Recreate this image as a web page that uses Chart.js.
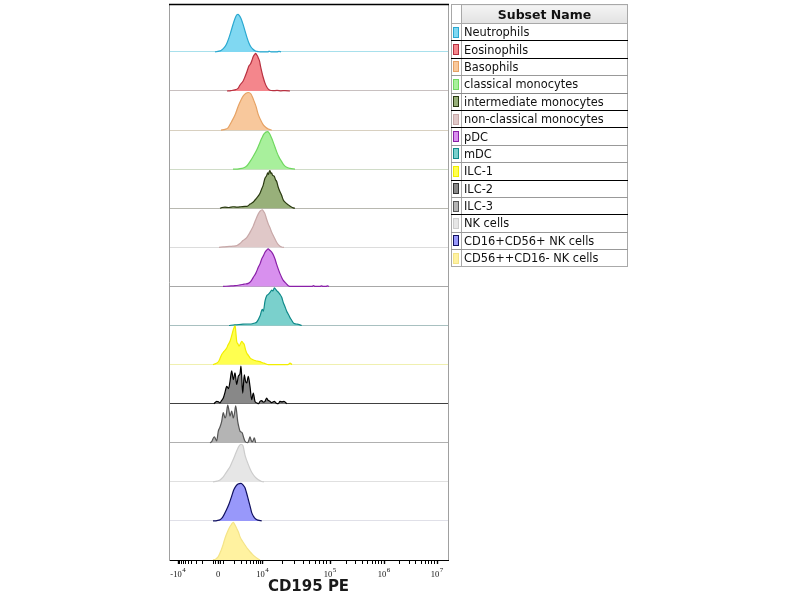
<!DOCTYPE html>
<html><head><meta charset="utf-8">
<script src="https://cdn.jsdelivr.net/npm/chart.js@4.4.1/dist/chart.umd.min.js"></script>
<style>
html,body{margin:0;padding:0;background:#fff;}
#wrap{position:relative;width:800px;height:600px;overflow:hidden;}
#c{position:absolute;left:0;top:0;}
#legend{position:absolute;left:451px;top:4px;width:177px;border-collapse:collapse;table-layout:fixed;
  font-family:"DejaVu Sans",Verdana,sans-serif;font-size:11.4px;color:#111;}
#legend td,#legend th{padding:0;border:1px solid #a8a8a8;white-space:nowrap;overflow:hidden;}
#legend th{height:18px;font-size:12.5px;font-weight:bold;text-align:center;
  background:linear-gradient(#f4f4f4,#e2e2e2);color:#111;}
#legend th.blank{background:#fff;}
#legend td{height:16.4px;line-height:16px;}
#legend td.name{padding-left:2px;}
#legend .sw{display:block;width:4px;height:9px;margin:0 0 0 1px;border:1px solid #666;}
</style></head>
<body><div id="wrap"><canvas id="c" width="800" height="600"></canvas>
<table id="legend"><colgroup><col style="width:10px"><col></colgroup>
<thead><tr><th class="blank"></th><th>Subset Name</th></tr></thead><tbody id="lb"></tbody></table></div>
<script>
// ---------- data ----------
const subsets = ['Neutrophils','Eosinophils','Basophils','classical monocytes','intermediate monocytes',
  'non-classical monocytes','pDC','mDC','ILC-1','ILC-2','ILC-3','NK cells','CD16+CD56+ NK cells','CD56++CD16- NK cells'];
// x axis: display channel (0..279), tick positions and labels of the biexponential CD195 PE axis
const tickChannels = [9, 49, 93.5, 161, 215, 268];
const tickBases = ['-10','0','10','10','10','10'];
const tickExponents = ['4','','4','5','6','7'];
const zeroBandChannels = [44, 54];
// histograms: [channel, % of mode]
const neutrophils = [[46,0],[48,1],[50,2],[52,4],[54,8],[56,14],[58,24],[60,38],[62,55],[64,73],[66,89],[68,99],[69,100],[70,98],[72,89],[74,74],[76,56],[78,38],[80,23],[82,13],[84,7],[86,3],[88,1.5],[90,0.5],[92,0],[99,0],[100,2],[102,0],[108,0],[110,1.5],[112,0]];
const eosinophils = [[58,0],[62,1],[66,3],[69,7],[71,16],[74,26],[76,38],[78,52],[80,67],[81.5,72],[83,82],[84.3,92],[85.5,97],[86.7,100],[87.5,97],[88.5,93],[89.3,88],[90.5,80],[91.5,66],[92.7,52],[94,38],[96,21],[97.5,12],[99.3,5],[101,2],[104,1],[108,1.5],[112,0.5],[116,1],[121,0]];
const basophils = [[52,0],[56,2],[59,6],[62.7,23],[66,40],[69.3,64],[72,80],[74.3,91],[77,98],[79.3,100],[82,96],[84.3,82],[87,63],[89.3,41],[92,25],[94.3,14],[97,7],[99.3,3],[102.7,0]];
const classicalMono = [[64,0],[70,1],[74.3,3],[78,9],[81,20],[84,33],[87.7,51],[90,65],[92.7,82],[95,94],[98.7,100],[100.5,95],[102.7,82],[105,66],[107.7,46],[110,32],[112.7,20],[115,11],[117.7,5],[121,2],[126,0]];
const intermediateMono = [[51,0],[53,2],[56,3],[60,2],[64,4],[68,3],[72,4],[76,5],[78,5],[81,11],[84,16],[86,22],[88,28],[91,40],[92.5,50],[94.3,62],[95,70],[96,80],[97.5,86],[98.7,94],[99.5,90],[100.3,98],[101,100],[102,92],[102.7,94],[103.5,88],[105.3,85],[106.5,76],[107.7,71],[109,58],[111,44],[112.5,35],[114.3,22],[116.5,15],[119.3,9],[122,4],[124.3,1],[126,0]];
const nonClassicalMono = [[50,0],[54,1],[58,2],[64,3],[68,5],[71,10],[74,18],[77.7,26],[80,35],[82,45],[84.3,57],[86.5,72],[89.3,89],[91,96],[93.3,100],[94.5,96],[96,89],[97.5,76],[99.3,62],[101,52],[102.7,40],[104.5,30],[106,22],[107.5,14],[109.3,7],[111,3],[112.7,1],[115,0]];
const pDC = [[54,0],[60,1],[66,2],[71,4],[75,6],[79.3,8],[82,14],[84.3,24],[87,36],[89.3,51],[91,60],[92.7,73],[94.5,82],[96,91],[97.5,96],[99.3,100],[100.5,97],[102.7,91],[104.5,83],[106,73],[107.5,60],[109.3,46],[111,34],[112.7,24],[114.3,16],[116,11],[117.7,6],[119.3,2],[122,0],[143,0],[144.5,2],[146,0],[151,0],[152.5,1.5],[154,0],[157,0],[158.5,1.5],[160,0]];
const mDC = [[60,0],[66,2],[72,3],[78,4],[82,4],[85,6],[88,10],[91,25],[93.3,43],[94.3,38],[96,65],[97.7,79],[99.3,83],[101,88],[102.7,94],[104,92],[105.3,100],[106.5,97],[107.7,93],[109.5,88],[111,83],[112.7,75],[114.3,61],[116,50],[117.7,38],[119.3,30],[121,21],[122.7,14],[124.3,7],[127,4],[129.3,3],[132.7,0]];
const ilc1 = [[44,0],[46,2],[48,4],[50,10],[52.7,27],[55,35],[57.7,44],[59,52],[61,62],[62.5,75],[64.3,93],[65.3,100],[66,106],[66.7,90],[67.7,62],[69,55],[70,49],[71.5,56],[72.7,62],[74,58],[75.3,53],[76.5,40],[77.7,31],[79.5,24],[81,18],[83,14],[86,11],[88.5,9],[91,8],[93.5,5],[96,3],[99.3,0],[119,0],[121,4],[123,0]];
const ilc2 = [[45,0],[47.7,6],[49.5,5],[51,2],[52.5,8],[54.3,15],[56,30],[57.7,46],[59.5,40],[61,59],[62.7,87],[64.3,64],[66,82],[67.7,51],[69.3,73],[71,80],[72,100],[73.7,28],[75.3,77],[76.5,60],[77.7,55],[79.3,73],[81,46],[82.7,11],[84.3,28],[86,6],[88,2],[89.5,0],[91,6],[92.7,8],[94.3,4],[96,6],[97.7,15],[99,9],[100,8],[102.7,3],[105.3,6],[107,2],[109.3,0],[111,6],[113,5],[115,6],[117.7,0]];
const ilc3 = [[41,0],[42.7,3],[45.3,16],[47.7,5],[49.3,31],[51,42],[52.7,57],[54.3,80],[56,66],[57.3,75],[58.7,100],[60,85],[61,71],[62.7,84],[64.3,66],[65.5,78],[66.7,98],[68.7,57],[70,40],[71,31],[73.3,26],[74.5,15],[76,4],[78.7,0],[80,8],[81,16],[82,8],[83.3,2],[84.5,8],[85.3,13],[86.7,0]];
const nkCells = [[44,0],[48,2],[51,5],[54.3,13],[57,24],[59,32],[61,40],[63,52],[66,71],[68,84],[70,95],[72,100],[74,96],[76,71],[78,55],[81,35],[83,24],[86,13],[89,6],[92.7,1],[95,0]];
const cd16cd56 = [[44,0],[48,1],[51,3],[53.7,10],[57.7,31],[60,45],[62.7,66],[64.7,82],[66.7,92],[69,98],[72,100],[74,96],[76,88],[77.5,75],[79.3,57],[81,40],[82.7,22],[84.5,12],[86.7,5],[89,2],[92.7,0]];
const cd56bright = [[44,0],[47,3],[49.3,9],[52,25],[54,40],[56,58],[58.5,75],[61,89],[62.5,95],[64.3,100],[66,93],[67.7,84],[69.5,74],[71,62],[73.5,50],[76,40],[78.5,30],[81,22],[83.5,15],[86,9],[88.5,4],[91,0]];
const histograms = [neutrophils, eosinophils, basophils, classicalMono, intermediateMono, nonClassicalMono,
  pDC, mDC, ilc1, ilc2, ilc3, nkCells, cd16cd56, cd56bright];

// ---------- styles ----------
const fillColors = ['#80d8f2','#f4868c','#f8c89c','#a8f09c','#98b07a','#e0c8c8','#d890ee','#7ad0cc','#ffff50','#888888','#b4b4b4','#e6e6e6','#9898fa','#fff2a0'];
const lineColors = ['#2aa8d0','#b83040','#e6a264','#70d860','#2a3a10','#c8a8a8','#8a20a8','#108a8a','#f2ee00','#000000','#555555','#cccccc','#101060','#f4e488'];
const baseColors = ['#a8e0ec','#c8c0c0','#d8d0c0','#d0dcc8','#b8b8b0','#dcdcdc','#a8a8a8','#a8c0c0','#f0f0b0','#404040','#b0b0b0','#e0e0e0','#e0e0e8','#000000'];
const rowBorders = ['#000','#000','#999','#888','#000','#000','#999','#999','#000','#999','#000','#999','#999','#aaa'];
const LANE = 104;
const nLanes = subsets.length;
const Y_MAX = 1479.5;

// ---------- legend table ----------
const lb = document.getElementById('lb');
subsets.forEach((name, i) => {
  const tr = document.createElement('tr');
  const td1 = document.createElement('td');
  const sw = document.createElement('span');
  sw.className = 'sw'; sw.style.background = fillColors[i]; sw.style.borderColor = lineColors[i] === '#000000' ? '#333' : lineColors[i];
  td1.appendChild(sw);
  const td2 = document.createElement('td');
  td2.className = 'name'; td2.textContent = name;
  [td1, td2].forEach(td => td.style.borderBottomColor = rowBorders[i]);
  tr.appendChild(td1); tr.appendChild(td2); lb.appendChild(tr);
});

// ---------- chart ----------
const laneBase = i => (nLanes - 1 - i) * LANE;
const datasets = histograms.map((pts, i) => ({
  label: subsets[i],
  data: pts.map(p => ({x: p[0], y: laneBase(i) + p[1]})),
  fill: {value: laneBase(i)},
  backgroundColor: fillColors[i],
  borderColor: lineColors[i],
  borderWidth: 1.2,
  pointRadius: 0,
  cubicInterpolationMode: 'monotone'
}));

function buildXTicks() {
  const t = [];
  tickChannels.forEach((v, i) => t.push({value: v, major: true}));
  const lo = zeroBandChannels[0], hi = zeroBandChannels[1];
  [lo, (lo + tickChannels[1]) / 2, (hi + tickChannels[1]) / 2, hi].forEach(v => t.push({value: v}));
  for (let k = 2; k <= 9; k++) {
    const f = Math.log10(k);
    t.push({value: hi + (tickChannels[2] - hi) * f});
    t.push({value: lo - (lo - tickChannels[0]) * f});
    for (let d = 2; d < tickChannels.length - 1; d++) t.push({value: tickChannels[d] + (tickChannels[d + 1] - tickChannels[d]) * f});
  }
  return t.sort((a, b) => a.value - b.value);
}

const framePlugin = {
  id: 'frame',
  afterDraw(chart) {
    const {ctx, chartArea: a} = chart;
    ctx.save();
    ctx.strokeStyle = '#a0a0a0'; ctx.lineWidth = 1;
    ctx.beginPath(); ctx.moveTo(a.right + 0.5, a.top); ctx.lineTo(a.right + 0.5, a.bottom); ctx.stroke();
    ctx.strokeStyle = '#000'; ctx.lineWidth = 1.6;
    ctx.beginPath(); ctx.moveTo(a.left, a.top + 0.5); ctx.lineTo(a.right + 1, a.top + 0.5); ctx.stroke();
    // power-of-ten tick labels with raised exponents
    const xs = chart.scales.x;
    const baseFont = '8.5px "Liberation Serif","DejaVu Serif",serif';
    const expFont = '7px "Liberation Serif","DejaVu Serif",serif';
    const yBase = xs.top + 16.5, yExp = yBase - 5;
    ctx.fillStyle = '#111'; ctx.textBaseline = 'alphabetic'; ctx.textAlign = 'left';
    tickChannels.forEach((v, i) => {
      ctx.font = baseFont; const wb = ctx.measureText(tickBases[i]).width;
      ctx.font = expFont; const we = tickExponents[i] ? ctx.measureText(tickExponents[i]).width + 0.5 : 0;
      const x0 = xs.getPixelForValue(v) - (wb + we) / 2;
      ctx.font = baseFont; ctx.fillText(tickBases[i], x0, yBase);
      if (we) { ctx.font = expFont; ctx.fillText(tickExponents[i], x0 + wb + 0.5, yExp); }
    });
    ctx.restore();
  }
};

new Chart(document.getElementById('c'), {
  type: 'line',
  data: {datasets},
  plugins: [framePlugin],
  options: {
    responsive: false, animation: false, devicePixelRatio: 1,
    layout: {padding: {left: 169, right: 352, top: 4, bottom: 0}},
    plugins: {legend: {display: false}, tooltip: {enabled: false}},
    scales: {
      x: {
        type: 'linear', min: 0, max: 279,
        afterBuildTicks: s => { s.ticks = buildXTicks(); },
        afterFit: s => { s.height = 40; },
        border: {display: true, color: '#000', width: 1},
        grid: {drawOnChartArea: false, drawTicks: true, tickLength: 4, tickColor: '#000',
               tickWidth: c => (c.tick && c.tick.major) ? 1.4 : 1},
        ticks: {autoSkip: false, maxRotation: 0, padding: 3, callback: () => ''},
        title: {display: true, text: 'CD195 PE', color: '#1a1a1a', padding: {top: 0, bottom: 4},
                font: {family: '"DejaVu Sans",Verdana,sans-serif', size: 15, weight: 'bold'}}
      },
      y: {
        type: 'linear', min: 0, max: Y_MAX,
        afterBuildTicks: s => { s.ticks = subsets.map((_, i) => ({value: laneBase(i)})); },
        afterFit: s => { s.width = 0; },
        border: {display: true, color: '#a0a0a0', width: 1},
        grid: {drawTicks: false, lineWidth: 1,
               color: c => { const i = nLanes - 1 - Math.round(c.tick.value / LANE); return baseColors[i] || '#ccc'; }},
        ticks: {display: false}
      }
    }
  }
});
</script></body></html>
